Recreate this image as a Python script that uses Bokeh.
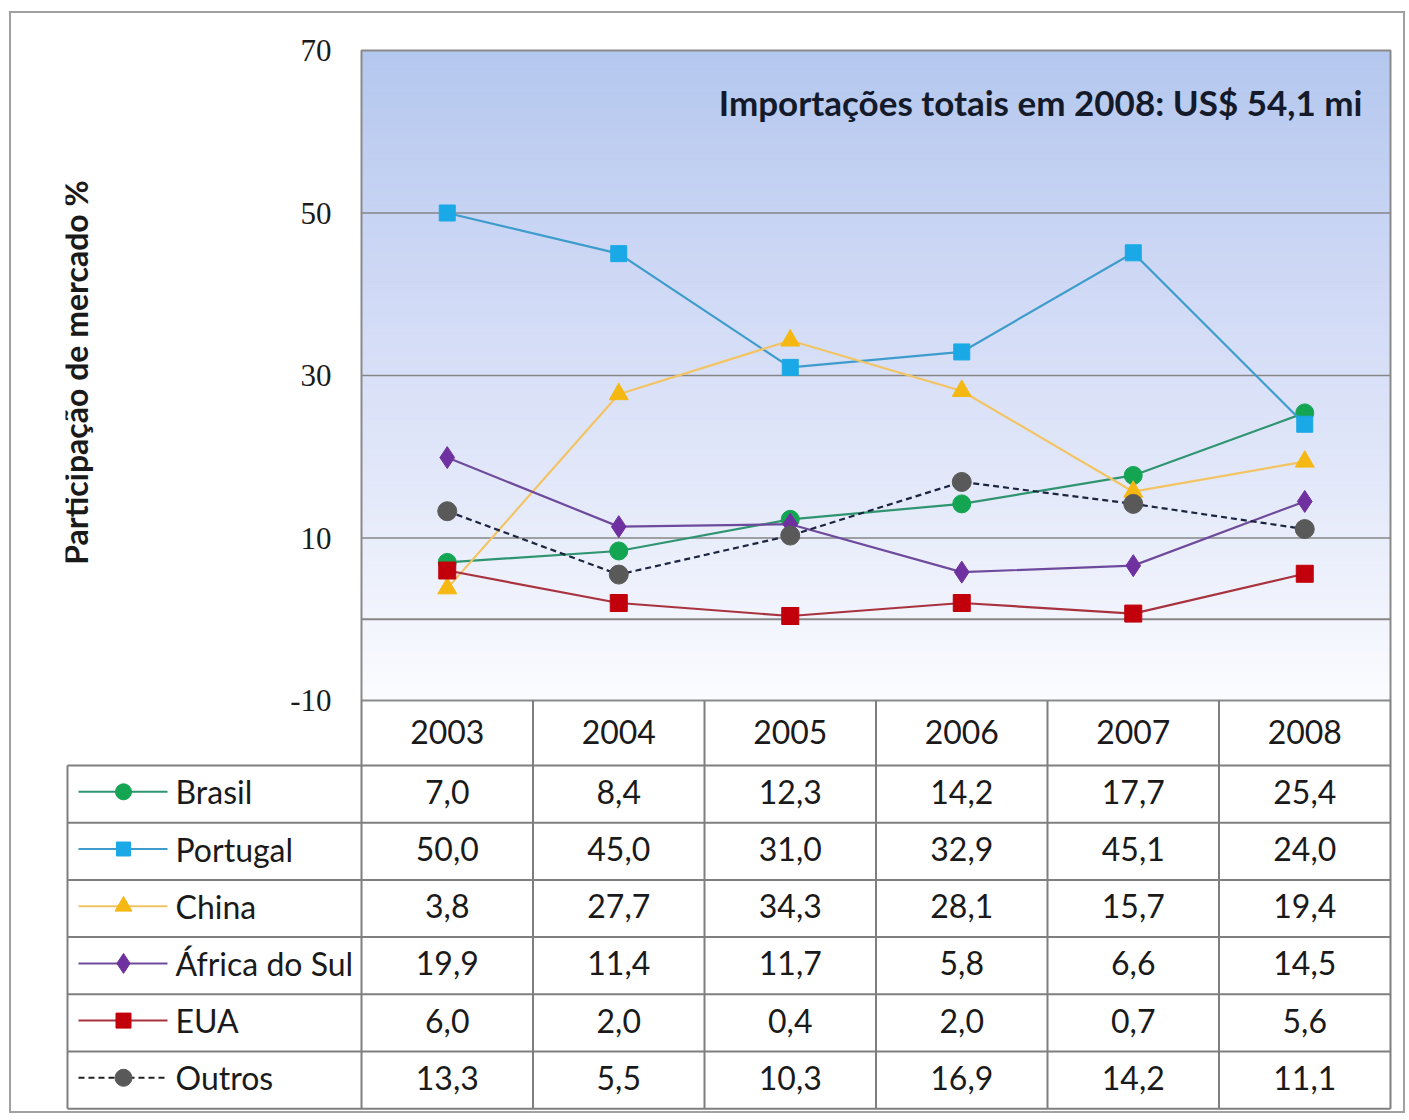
import math
from bokeh.plotting import figure
from bokeh.models import Range1d, Label
from bokeh.embed import file_html
from bokeh.resources import INLINE
from bokeh.core.properties import value

# ---------------- data ----------------
years = ["2003", "2004", "2005", "2006", "2007", "2008"]
countries = ["Brasil", "Portugal", "China", "África do Sul", "EUA", "Outros"]
brasil = [7.0, 8.4, 12.3, 14.2, 17.7, 25.4]
portugal = [50.0, 45.0, 31.0, 32.9, 45.1, 24.0]
china = [3.8, 27.7, 34.3, 28.1, 15.7, 19.4]
africa_sul = [19.9, 11.4, 11.7, 5.8, 6.6, 14.5]
eua = [6.0, 2.0, 0.4, 2.0, 0.7, 5.6]
outros = [13.3, 5.5, 10.3, 16.9, 14.2, 11.1]
y_ticks = [-10, 10, 30, 50, 70]
grid_ticks = [10, 30, 50]
zero_line = [0]
title_text = "Importações totais em 2008: US$ 54,1 mi"
y_title = "Participação de mercado %"

series = [brasil, portugal, china, africa_sul, eua, outros]

# ---------------- styles ----------------
styles = [
    dict(marker="circle", fill="#13a552", line="#2f9470", dash="solid", size=18),
    dict(marker="square", fill="#1aa9e6", line="#3d9ccc", dash="solid", size=16),
    dict(marker="triangle", fill="#f5b812", line="#f2c463", dash="solid", size=19),
    dict(marker="diamond", fill="#7031a0", line="#6e4a9c", dash="solid", size=22),
    dict(marker="square", fill="#c2000b", line="#a8333f", dash="solid", size=17),
    dict(marker="circle", fill="#595959", line="#1c2540", dash="6 4", size=19),
]

SANS = "Lato"
SERIF = "Liberation Serif"
TXT = "#1a1a1a"
GRID = "#868686"
BORDER = "#8a8a8a"

# ---------------- geometry (pixels of the page) ----------------
W, H = 1396, 1102
col_px = 171.5          # width of one year column
chart_left, chart_top, chart_bottom = 361, 50, 700
frame_left, frame_right, frame_top, frame_bottom = 65, 1392, 36, 1110
ylo, yhi = y_ticks[0], y_ticks[-1]
ppu = (chart_bottom - chart_top) / (yhi - ylo)   # px per y unit
ncol = len(years)

x_start = -(chart_left - frame_left) / col_px
x_end = ncol + (frame_right - (chart_left + ncol * col_px)) / col_px
y_end = yhi + (chart_top - frame_top) / ppu
y_start = yhi - (frame_bottom - chart_top) / ppu

p = figure(width=W, height=H, x_range=Range1d(x_start, x_end), y_range=Range1d(y_start, y_end),
           output_backend="svg", toolbar_location=None,
           x_axis_location=None, y_axis_location=None,
           min_border_left=54, min_border_right=15, min_border_top=23, min_border_bottom=5,
           outline_line_color=None, background_fill_color="white", border_fill_color="white",
           margin=(11, 0, 0, 9), styles={"border": "2px solid #a0a0a0"})
p.xgrid.visible = False
p.ygrid.visible = False

# table coordinate system: pixels below the chart's bottom edge
p.extra_y_ranges = {"table": Range1d(start=frame_bottom - chart_bottom, end=frame_top - chart_bottom)}

# ---------------- chart ----------------
n_steps = 160
stops = [(0.0, (251, 252, 255)), (0.3, (229, 234, 250)), (0.6, (210, 219, 246)), (1.0, (180, 199, 238))]
def grad(f):
    for (f0, c0), (f1, c1) in zip(stops[:-1], stops[1:]):
        if f0 <= f <= f1:
            t = (f - f0) / (f1 - f0)
            return tuple(int(round(a + (b - a) * t)) for a, b in zip(c0, c1))
    return stops[-1][1]
step = (yhi - ylo) / n_steps
bottoms = [ylo + k * step for k in range(n_steps)]
tops = [b + step for b in bottoms]
cols = ["#%02x%02x%02x" % grad((k + 0.5) / n_steps) for k in range(n_steps)]
p.quad(left=0, right=ncol, bottom=bottoms, top=tops, fill_color=cols, line_color=cols, line_width=1)

p.segment(x0=0, x1=ncol, y0=grid_ticks, y1=grid_ticks, line_color=GRID, line_width=1.6)
p.segment(x0=0, x1=ncol, y0=zero_line, y1=zero_line, line_color=GRID, line_width=2)
p.quad(left=0, right=ncol, bottom=ylo, top=yhi, fill_color=None, line_color=BORDER, line_width=2)

# y tick labels and axis title
p.text(x=[-30 / col_px] * len(y_ticks), y=y_ticks, text=[str(v) for v in y_ticks],
       text_align="right", text_baseline="middle", text_font=value(SERIF),
       text_font_size="31px", text_color=TXT)
p.text(x=[(75 - chart_left) / col_px], y=[yhi - (372 - chart_top) / ppu], text=[y_title],
       angle=math.pi / 2, text_align="center", text_baseline="middle", text_font=value(SANS),
       text_font_style="bold", text_font_size="32px", text_color=TXT)

xs = [i + 0.5 for i in range(ncol)]
for vals, st in zip(series, styles):
    p.line(xs, vals, line_color=st["line"], line_width=2.2, line_dash=st["dash"])
    p.scatter(xs, vals, marker=st["marker"], size=st["size"], fill_color=st["fill"],
              line_color=st["fill"], line_width=1)

p.add_layout(Label(x=ncol - (1390 - 1362) / col_px, y=yhi - (101 - chart_top) / ppu, text=title_text,
                   text_align="right", text_baseline="middle", text_font=SANS,
                   text_font_size="35px", text_font_style="bold", text_color="#141a2a"))

# ---------------- table ----------------
legend_w = (chart_left - 67) / col_px
hh = 65.0          # header row height
rh = 57.2          # data row height
nrows = len(countries)
LINE = "#7f7f7f"
vx0, vy0, vx1, vy1 = [], [], [], []
for i in range(ncol + 1):
    vx0.append(i); vy0.append(0); vx1.append(i); vy1.append(hh + nrows * rh)
vx0.append(-legend_w); vy0.append(hh); vx1.append(-legend_w); vy1.append(hh + nrows * rh)
for r in range(nrows + 1):
    vx0.append(-legend_w); vy0.append(hh + r * rh); vx1.append(ncol); vy1.append(hh + r * rh)
p.segment(x0=vx0, y0=vy0, x1=vx1, y1=vy1, line_color=LINE, line_width=2, y_range_name="table")

p.text(x=xs, y=[hh / 2 - 1] * ncol, text=years, text_align="center", text_baseline="middle",
       text_font=value(SANS), text_font_size="32px", text_color=TXT, y_range_name="table")

for r, vals in enumerate(series):
    labels = [f"{v:.1f}".replace(".", ",") for v in vals]
    p.text(x=xs, y=[hh + (r + 0.46) * rh] * ncol, text=labels, text_align="center",
           text_baseline="middle", text_font=value(SANS), text_font_size="32px",
           text_color=TXT, y_range_name="table")

lx0 = (78 - chart_left) / col_px
lx1 = (167 - chart_left) / col_px
lm = (123 - chart_left) / col_px
ltx = (175 - chart_left) / col_px
for r, (name, st) in enumerate(zip(countries, styles)):
    yc = hh + (r + 0.46) * rh
    lc = st["line"] if st["dash"] == "solid" else "#222222"
    p.line([lx0, lx1], [yc, yc], line_color=lc, line_width=2, line_dash=st["dash"], y_range_name="table")
    p.scatter([lm], [yc], marker=st["marker"], size=st["size"] - 2, fill_color=st["fill"],
              line_color=st["fill"], y_range_name="table")
    p.text(x=[ltx], y=[yc], text=[name], text_align="left", text_baseline="middle",
           text_font=value(SANS), text_font_size="32px", text_color=TXT, y_range_name="table")

open("out.html", "w").write(file_html(p, INLINE))
